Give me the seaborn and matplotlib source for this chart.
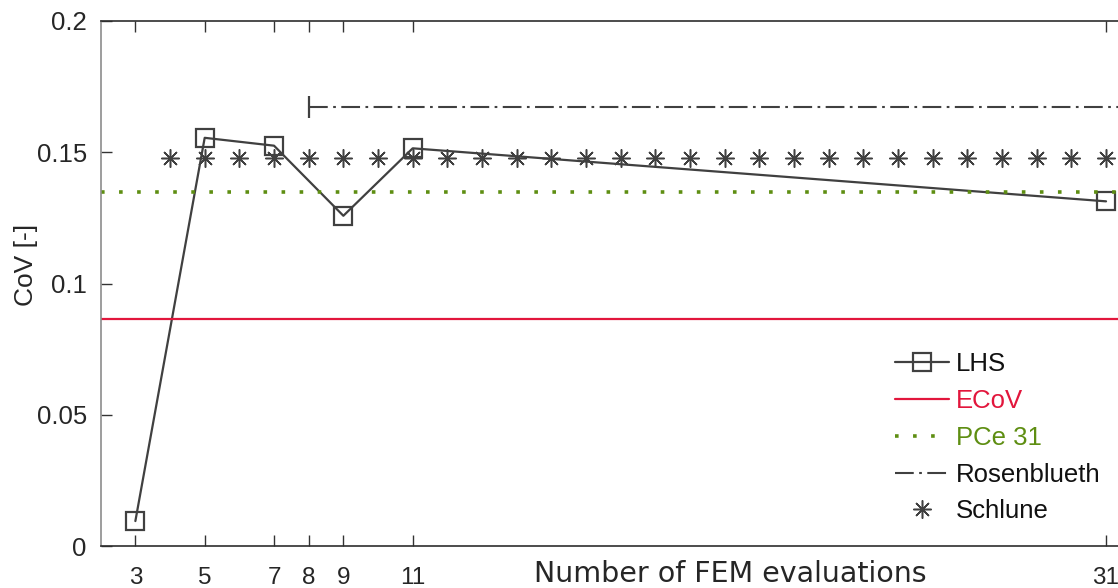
import numpy as np
import pandas as pd
import matplotlib
matplotlib.use("Agg")
import matplotlib.pyplot as plt
import seaborn as sns

# Data
lhs_n = [3, 5, 7, 9, 11, 31]
lhs_cov = [0.0095, 0.1555, 0.1525, 0.1258, 0.1515, 0.1313]
ecov = 0.0865
pce31 = 0.1348
rosen_n = [8, 32]
rosen_cov = [0.1672, 0.1672]
schlune_n = list(range(4, 32))
schlune_cov = [0.1477] * len(schlune_n)
xticks = [3, 5, 7, 8, 9, 11, 31]
yticks = [0, 0.05, 0.1, 0.15, 0.2]
ytick_labels = ["0", "0.05", "0.1", "0.15", "0.2"]

dark = "#404040"
red = "#e2163c"
green = "#5e8e12"

sns.set_style("ticks")
plt.rcParams['font.family'] = ['Liberation Sans', 'DejaVu Sans']

fig = plt.figure(figsize=(11.18, 5.88), dpi=100)
# axes extend past the right edge like the cropped reference
ax = fig.add_axes([100.7 / 1118, 42 / 588, 1040 / 1118, 525 / 588])

sns.lineplot(x=lhs_n, y=lhs_cov, ax=ax, color=dark, lw=1.6, marker="s",
             markersize=12.5, markerfacecolor="none", markeredgecolor=dark,
             markeredgewidth=1.6, label="LHS")
ax.axhline(ecov, color=red, lw=1.6, label="ECoV")
ax.axhline(pce31, color=green, lw=2.6, dashes=(1, 4), label="PCe 31")
sns.lineplot(x=rosen_n, y=rosen_cov, ax=ax, color=dark, lw=1.5,
             dashes=(9, 2.6, 1.3, 2.6), label="Rosenblueth")
ax.plot(rosen_n[:1], rosen_cov[:1], marker="|", markersize=16,
        markeredgewidth=1.6, color=dark, linestyle="none")
sns.lineplot(x=schlune_n, y=schlune_cov, ax=ax, color=dark, linestyle="none",
             marker=(8, 2, 0), markersize=13, markeredgewidth=1.1,
             markeredgecolor=dark, label="Schlune")

ax.set_xlim(2, 32)
ax.set_ylim(0, 0.2)
ax.set_xticks(xticks)
ax.set_xticklabels([str(t) for t in xticks])
ax.set_yticks(yticks)
ax.set_yticklabels(ytick_labels)
ax.tick_params(direction="in", length=8, width=1.0, colors="#333333",
               top=True, right=True)
ax.tick_params(axis="x", pad=15, labelsize=17.5, labelcolor="#262626")
ax.tick_params(axis="y", pad=10, labelsize=18.5, labelcolor="#262626")
for s in ["top", "right", "bottom"]:
    ax.spines[s].set_color("#2e2e2e")
ax.spines["left"].set_color("#8c8c8c")
for s in ax.spines.values():
    s.set_linewidth(1.2)

ax.set_xlabel("Number of FEM evaluations", fontsize=20.5,
              family=["DejaVu Sans"], color="#262626")
ax.xaxis.label.set(ha="center", va="center")
ax.xaxis.set_label_coords((730 - 100.7) / 1040, (546 - 574) / 525)
ax.set_ylabel("CoV [-]", fontsize=19, color="#262626")
ax.yaxis.label.set(ha="center", va="center")
ax.yaxis.set_label_coords((26 - 100.7) / 1040, (546 - 265) / 525)

handles, labels = ax.get_legend_handles_labels()
order = ["LHS", "ECoV", "PCe 31", "Rosenblueth", "Schlune"]
hmap = dict(zip(labels, handles))
leg = ax.legend([hmap[k] for k in order], order, loc="upper left",
                bbox_to_anchor=((895 - 100.7) / 1040, (546 - 352) / 525),
                frameon=False, fontsize=18.5, handlelength=2.1,
                handletextpad=0.28, labelspacing=0.5, borderpad=0,
                borderaxespad=0)
text_colors = ["#111111", red, green, "#111111", "#111111"]
for t, c in zip(leg.get_texts(), text_colors):
    t.set_color(c)

fig.savefig("out.png", dpi=100)
